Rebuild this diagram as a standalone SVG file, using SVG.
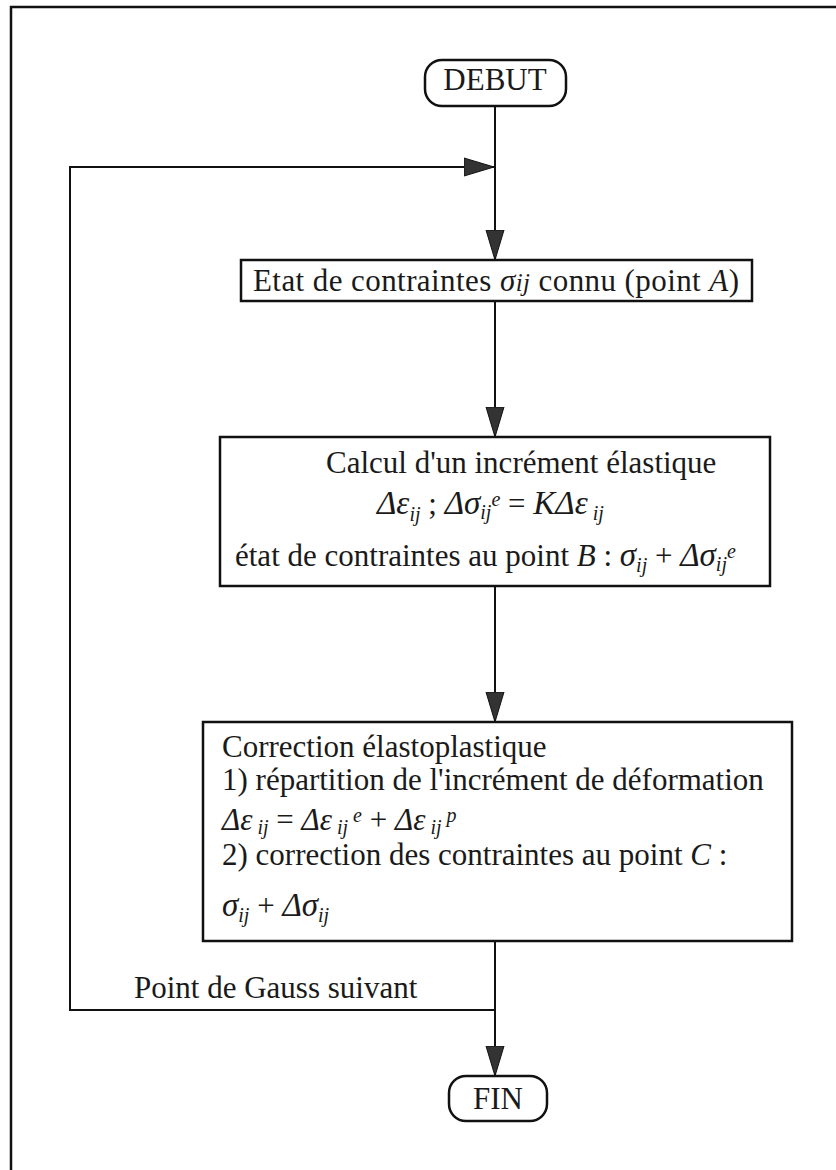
<svg xmlns="http://www.w3.org/2000/svg" width="836" height="1170" viewBox="0 0 836 1170">
<style>
.t{font-family:"Liberation Serif","Times New Roman",serif;font-size:31px;fill:#1a1a1a}
.i{font-style:italic}
.m{font-style:italic;font-size:33px}
.s{font-size:20px;font-style:italic}
.box{fill:#fff;stroke:#111;stroke-width:2.5}
.ln{fill:none;stroke:#111;stroke-width:2}
</style>
<defs>
<marker id="ah" viewBox="0 0 30 20" refX="30" refY="10" markerWidth="30" markerHeight="20" markerUnits="userSpaceOnUse" orient="auto">
<path d="M0,1 L30,10 L0,19 z" fill="#333" stroke="#111" stroke-width="1"/>
</marker>
</defs>
<rect width="836" height="1170" fill="#fff"/>
<path d="M11,1170 V7 H836" fill="none" stroke="#111" stroke-width="2.5"/>
<g id="connectors">
<line class="ln" x1="495" y1="106" x2="495" y2="260" marker-end="url(#ah)"/>
<line class="ln" x1="495" y1="301" x2="495" y2="437" marker-end="url(#ah)"/>
<line class="ln" x1="495" y1="586" x2="495" y2="722" marker-end="url(#ah)"/>
<line class="ln" x1="495" y1="941" x2="495" y2="1076" marker-end="url(#ah)"/>
<polyline class="ln" points="495,1010 70,1010 70,167 494,167" marker-end="url(#ah)"/>
<text class="t" x="134" y="998">Point de Gauss suivant</text>
</g>
<g id="debut">
<rect class="box" x="425" y="60" width="141" height="46" rx="17"/>
<text class="t" x="495" y="90" text-anchor="middle">DEBUT</text>
</g>
<g id="etat">
<rect class="box" x="241" y="260" width="511" height="41"/>
<text class="t" x="253" y="291" font-size="32" textLength="486" lengthAdjust="spacing">Etat de contraintes <tspan class="i">σ</tspan><tspan class="i" font-size="25">ij</tspan> connu (point <tspan class="i">A</tspan>)</text>
</g>
<g id="calcul">
<rect class="box" x="220" y="437" width="550" height="149"/>
<text class="t" x="326" y="473">Calcul d'un incrément élastique</text>
<text class="t" x="377" y="514"><tspan class="m">Δε</tspan><tspan class="s" dy="7">ij</tspan><tspan dy="-7"> ; </tspan><tspan class="m">Δσ</tspan><tspan class="s" dy="5">ij</tspan><tspan class="s" dy="-13">e</tspan><tspan dy="8"> = </tspan><tspan class="m">KΔε</tspan><tspan class="s" dy="6">  ij</tspan></text>
<text class="t" x="235" y="566">état de contraintes au point <tspan class="i">B</tspan> :  <tspan class="m">σ</tspan><tspan class="s" dy="6">ij</tspan><tspan dy="-6"> + </tspan><tspan class="m">Δσ</tspan><tspan class="s" dy="5">ij</tspan><tspan class="s" dy="-13">e</tspan></text>
</g>
<g id="correction">
<rect class="box" x="203" y="722" width="589" height="219"/>
<text class="t" x="222" y="757">Correction élastoplastique</text>
<text class="t" x="222" y="790" font-size="31.6">1) répartition de l'incrément de déformation</text>
<text class="t" x="222" y="830"><tspan class="i">Δε</tspan><tspan class="s" dy="4"> ij</tspan><tspan dy="-4"> = </tspan><tspan class="i">Δε</tspan><tspan class="s" dy="4"> ij</tspan><tspan class="s" dy="-12"> e</tspan><tspan dy="8"> + </tspan><tspan class="i">Δε</tspan><tspan class="s" dy="4"> ij</tspan><tspan class="s" dy="-12"> p</tspan></text>
<text class="t" x="222" y="865">2) correction des contraintes au point <tspan class="i">C</tspan> :</text>
<text class="t" x="222" y="916"><tspan class="m">σ</tspan><tspan class="s" dy="6">ij</tspan><tspan dy="-6"> + </tspan><tspan class="m">Δσ</tspan><tspan class="s" dy="6">ij</tspan></text>
</g>
<g id="fin">
<rect class="box" x="449" y="1076" width="98" height="45" rx="17"/>
<text class="t" x="498" y="1109" text-anchor="middle">FIN</text>
</g>
</svg>
